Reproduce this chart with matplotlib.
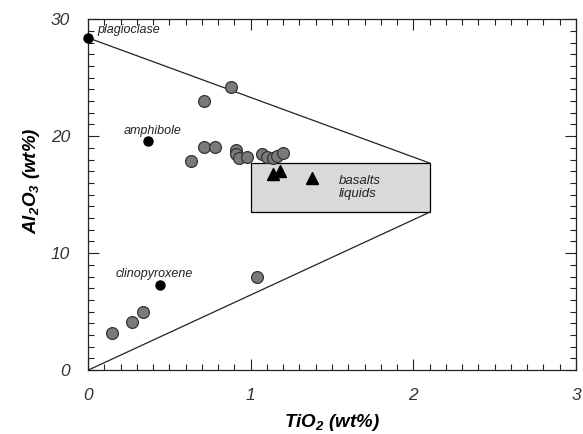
import matplotlib
matplotlib.use("Agg")
import matplotlib.pyplot as plt
from matplotlib.patches import Rectangle
from matplotlib.ticker import MultipleLocator

plt.rcParams['font.family'] = ['Liberation Sans', 'DejaVu Sans']
plt.rcParams['mathtext.fontset'] = 'custom'
plt.rcParams['mathtext.bf'] = 'Liberation Sans:italic:bold'

# mineral end-members (black dots)
minerals   = ['plagioclase', 'amphibole', 'clinopyroxene']
mineral_ti = [0.0, 0.37, 0.44]
mineral_al = [28.4, 19.6, 7.3]

# samples (grey circles)
sample_ti = [0.88, 0.71, 0.71, 0.78, 0.91, 0.63, 0.91, 0.93, 0.98, 1.07, 1.10,
             1.14, 1.16, 1.20, 0.15, 0.27, 0.34, 1.04]
sample_al = [24.2, 23.0, 19.1, 19.1, 18.8, 17.9, 18.5, 18.1, 18.2, 18.5, 18.2,
             18.1, 18.3, 18.6, 3.2, 4.1, 5.0, 8.0]

# liquids (triangles)
liquid_ti = [1.14, 1.18, 1.38]
liquid_al = [16.8, 17.0, 16.4]

# basalt liquid field and mixing lines
box_ti = [1.0, 2.1]
box_al = [13.5, 17.7]

fig = plt.figure(figsize=(5.83, 4.34), dpi=100)
ax = fig.add_axes([0.151, 0.147, 0.837, 0.809])

ax.add_patch(Rectangle((box_ti[0], box_al[0]), box_ti[1] - box_ti[0], box_al[1] - box_al[0],
                       facecolor='#d9d9d9', edgecolor='black', linewidth=0.9, zorder=1))
ax.plot([mineral_ti[0], box_ti[1]], [mineral_al[0], box_al[1]], color='#222222', lw=0.9, zorder=2)
ax.plot([0, box_ti[1]], [0, box_al[0]], color='#222222', lw=0.9, zorder=2)

ax.plot(sample_ti, sample_al, 'o', ms=8.5, mfc='#7a7a7a', mec='#333333', mew=0.9, zorder=3)
ax.plot(liquid_ti, liquid_al, '^', ms=8.5, color='black', zorder=4)
ax.plot(mineral_ti, mineral_al, 'o', ms=6.5, color='black', zorder=5, clip_on=False)

ax.text(0.06, 29.1, 'plagioclase', fontsize=9, style='italic', color='#222222', va='center')
ax.text(0.22, 20.4, 'amphibole', fontsize=9, style='italic', color='#222222', va='center')
ax.text(0.17, 8.2, 'clinopyroxene', fontsize=9, style='italic', color='#222222', va='center')
ax.text(1.54, 16.7, 'basalts\nliquids', fontsize=9.5, style='italic', color='#222222',
        va='top', linespacing=1.1)

ax.set_xlim(0, 3)
ax.set_ylim(0, 30)
ax.xaxis.set_major_locator(MultipleLocator(1))
ax.xaxis.set_minor_locator(MultipleLocator(0.1))
ax.yaxis.set_major_locator(MultipleLocator(10))
ax.yaxis.set_minor_locator(MultipleLocator(1))
ax.tick_params(which='both', direction='in', top=True, right=True, width=0.8, color='#222222')
ax.tick_params(which='major', length=8, pad=13, labelsize=12.5, labelcolor='#333333')
ax.tick_params(which='minor', length=4)
for lab in ax.get_xticklabels() + ax.get_yticklabels():
    lab.set_style('italic')
for sp in ax.spines.values():
    sp.set_linewidth(0.9)
    sp.set_color('#222222')

ax.set_xlabel(r'TiO$_\mathbf{2}$ (wt%)', fontsize=13.5, fontweight='bold', style='italic')
ax.set_ylabel(r'Al$_\mathbf{2}$O$_\mathbf{3}$ (wt%)', fontsize=13.5, fontweight='bold', style='italic')
ax.xaxis.set_label_coords(0.5, -0.119)
ax.yaxis.set_label_coords(-0.094, 0.54)

fig.savefig('out.png', dpi=100)
